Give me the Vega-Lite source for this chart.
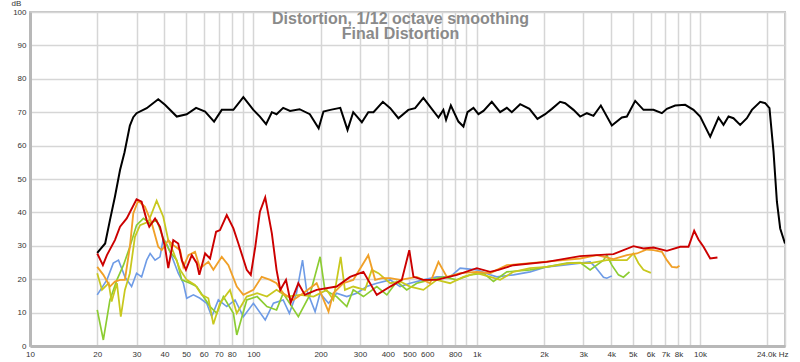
{
  "$schema": "https://vega.github.io/schema/vega-lite/v6.json",
  "width": 755,
  "height": 334,
  "autosize": {"type": "none"},
  "padding": {"left": 30, "top": 12, "right": 15, "bottom": 16},
  "background": "#ffffff",
  "config": {
    "view": {"stroke": "#c4c4c4", "strokeWidth": 2},
    "font": "Liberation Sans"
  },
  "title": {
    "text": ["Distortion, 1/12 octave smoothing", "Final Distortion"],
    "anchor": "middle",
    "frame": "group",
    "orient": "top",
    "offset": -43,
    "dx": -7,
    "lineHeight": 15,
    "font": "Liberation Sans",
    "fontSize": 16,
    "fontWeight": "bold",
    "color": "#8a8a8a"
  },
  "data": {
    "values": [
      {"s":"H1","f":20,"d":27.9},{"s":"H1","f":21.7,"d":30.7},{"s":"H1","f":22.8,"d":37.7},{"s":"H1","f":24,"d":44.7},{"s":"H1","f":25.3,"d":52.7},{"s":"H1","f":26.5,"d":58},{"s":"H1","f":28,"d":66},{"s":"H1","f":29,"d":68.5},{"s":"H1","f":30,"d":69.7},{"s":"H1","f":33.3,"d":71.2},{"s":"H1","f":37.5,"d":73.9},{"s":"H1","f":40.2,"d":72.2},{"s":"H1","f":45.4,"d":68.7},{"s":"H1","f":50.3,"d":69.4},{"s":"H1","f":55.4,"d":71.3},{"s":"H1","f":60.8,"d":70.2},{"s":"H1","f":66.7,"d":67.2},{"s":"H1","f":72.2,"d":70.7},{"s":"H1","f":81.4,"d":70.7},{"s":"H1","f":90.2,"d":74.5},{"s":"H1","f":100,"d":70.7},{"s":"H1","f":107,"d":68.7},{"s":"H1","f":114,"d":66.4},{"s":"H1","f":121,"d":70},{"s":"H1","f":127,"d":69.4},{"s":"H1","f":136,"d":71.3},{"s":"H1","f":146,"d":70.4},{"s":"H1","f":161,"d":70.9},{"s":"H1","f":179,"d":69.4},{"s":"H1","f":196,"d":65.2},{"s":"H1","f":206,"d":70.2},{"s":"H1","f":221,"d":70.7},{"s":"H1","f":245,"d":71.3},{"s":"H1","f":264,"d":64.7},{"s":"H1","f":280,"d":70},{"s":"H1","f":306,"d":67},{"s":"H1","f":327,"d":70},{"s":"H1","f":345,"d":70},{"s":"H1","f":380,"d":73.1},{"s":"H1","f":410,"d":71.2},{"s":"H1","f":446,"d":68.2},{"s":"H1","f":494,"d":70.7},{"s":"H1","f":530,"d":71.2},{"s":"H1","f":577,"d":74.3},{"s":"H1","f":618,"d":71.7},{"s":"H1","f":674,"d":68.4},{"s":"H1","f":709,"d":70.7},{"s":"H1","f":729,"d":67.7},{"s":"H1","f":766,"d":72},{"s":"H1","f":828,"d":67.2},{"s":"H1","f":872,"d":65.7},{"s":"H1","f":909,"d":70},{"s":"H1","f":967,"d":71.3},{"s":"H1","f":1018,"d":69.4},{"s":"H1","f":1072,"d":70.4},{"s":"H1","f":1168,"d":73.1},{"s":"H1","f":1273,"d":70},{"s":"H1","f":1364,"d":71.3},{"s":"H1","f":1436,"d":70},{"s":"H1","f":1565,"d":72.4},{"s":"H1","f":1722,"d":71},{"s":"H1","f":1870,"d":68},{"s":"H1","f":2025,"d":69.4},{"s":"H1","f":2170,"d":71},{"s":"H1","f":2363,"d":73.1},{"s":"H1","f":2489,"d":72.7},{"s":"H1","f":2712,"d":70.7},{"s":"H1","f":2905,"d":68.7},{"s":"H1","f":3113,"d":69.7},{"s":"H1","f":3332,"d":68.9},{"s":"H1","f":3595,"d":72},{"s":"H1","f":4027,"d":66},{"s":"H1","f":4465,"d":68.4},{"s":"H1","f":4702,"d":68.7},{"s":"H1","f":5122,"d":73.4},{"s":"H1","f":5580,"d":70.7},{"s":"H1","f":6185,"d":70.7},{"s":"H1","f":6745,"d":69.7},{"s":"H1","f":7101,"d":71},{"s":"H1","f":7735,"d":72},{"s":"H1","f":8576,"d":72.2},{"s":"H1","f":9344,"d":70.7},{"s":"H1","f":10010,"d":68.7},{"s":"H1","f":11100,"d":62.7},{"s":"H1","f":12090,"d":68.4},{"s":"H1","f":12730,"d":66.2},{"s":"H1","f":13410,"d":68.7},{"s":"H1","f":14110,"d":68.2},{"s":"H1","f":15120,"d":66.2},{"s":"H1","f":16200,"d":68.2},{"s":"H1","f":17060,"d":70.7},{"s":"H1","f":18590,"d":73.1},{"s":"H1","f":19570,"d":72.7},{"s":"H1","f":20450,"d":71.2},{"s":"H1","f":21320,"d":58.2},{"s":"H1","f":22080,"d":43.2},{"s":"H1","f":22840,"d":35.2},{"s":"H1","f":24000,"d":30.7},

      {"s":"H6","f":20,"d":15.3},{"s":"H6","f":22.1,"d":19.8},{"s":"H6","f":23.6,"d":24.8},{"s":"H6","f":24.9,"d":25.7},{"s":"H6","f":26.6,"d":20.7},{"s":"H6","f":28.5,"d":17.8},{"s":"H6","f":30,"d":21.8},{"s":"H6","f":31.6,"d":20.7},{"s":"H6","f":33.3,"d":25.7},{"s":"H6","f":34.5,"d":27.7},{"s":"H6","f":36.3,"d":25.7},{"s":"H6","f":38.2,"d":26.7},{"s":"H6","f":39.5,"d":32.2},{"s":"H6","f":41.2,"d":30.2},{"s":"H6","f":43.8,"d":25.7},{"s":"H6","f":46.1,"d":21.8},{"s":"H6","f":48.6,"d":18.8},{"s":"H6","f":50.3,"d":14.3},{"s":"H6","f":53.9,"d":15.3},{"s":"H6","f":57.7,"d":14.3},{"s":"H6","f":61.8,"d":12.8},{"s":"H6","f":65.1,"d":8.8},{"s":"H6","f":69.7,"d":13.8},{"s":"H6","f":76,"d":11.8},{"s":"H6","f":82.8,"d":13.8},{"s":"H6","f":90.2,"d":8.8},{"s":"H6","f":100,"d":12.8},{"s":"H6","f":113,"d":7.8},{"s":"H6","f":123,"d":12.8},{"s":"H6","f":136,"d":13.8},{"s":"H6","f":145,"d":9.8},{"s":"H6","f":156,"d":15.8},{"s":"H6","f":166,"d":25.7},{"s":"H6","f":173,"d":16.8},{"s":"H6","f":189,"d":10.3},{"s":"H6","f":199,"d":15.8},{"s":"H6","f":217,"d":12.8},{"s":"H6","f":236,"d":15.8},{"s":"H6","f":262,"d":14.8},{"s":"H6","f":290,"d":15.8},{"s":"H6","f":322,"d":17.8},{"s":"H6","f":357,"d":18.8},{"s":"H6","f":410,"d":19.8},{"s":"H6","f":454,"d":17.8},{"s":"H6","f":503,"d":18.8},{"s":"H6","f":577,"d":19.8},{"s":"H6","f":663,"d":20.7},{"s":"H6","f":760,"d":20.7},{"s":"H6","f":843,"d":23.3},{"s":"H6","f":1001,"d":22.8},{"s":"H6","f":1148,"d":21.3},{"s":"H6","f":1230,"d":20.7},{"s":"H6","f":1460,"d":21.3},{"s":"H6","f":1734,"d":22.2},{"s":"H6","f":2060,"d":23.7},{"s":"H6","f":2445,"d":24.2},{"s":"H6","f":2905,"d":24.8},{"s":"H6","f":3219,"d":25.2},{"s":"H6","f":3390,"d":23.7},{"s":"H6","f":3694,"d":20.6},{"s":"H6","f":3824,"d":20.3},{"s":"H6","f":4027,"d":21},

      {"s":"H5","f":20,"d":10.8},{"s":"H5","f":21.3,"d":1.8},{"s":"H5","f":22.8,"d":13.8},{"s":"H5","f":24.5,"d":19.8},{"s":"H5","f":26.2,"d":24.2},{"s":"H5","f":28,"d":29.7},{"s":"H5","f":30,"d":36.2},{"s":"H5","f":32.2,"d":38.2},{"s":"H5","f":34.5,"d":36.7},{"s":"H5","f":36.9,"d":37.7},{"s":"H5","f":39.5,"d":32.2},{"s":"H5","f":42.4,"d":28.2},{"s":"H5","f":45.4,"d":25.7},{"s":"H5","f":47.8,"d":19.8},{"s":"H5","f":52.1,"d":18.8},{"s":"H5","f":55.8,"d":17.8},{"s":"H5","f":59.7,"d":14.8},{"s":"H5","f":64,"d":11.8},{"s":"H5","f":68.6,"d":9.8},{"s":"H5","f":73.4,"d":14.8},{"s":"H5","f":81.4,"d":9.8},{"s":"H5","f":84.3,"d":3.3},{"s":"H5","f":93.4,"d":13.8},{"s":"H5","f":104,"d":14.8},{"s":"H5","f":115,"d":11.8},{"s":"H5","f":127,"d":10.8},{"s":"H5","f":136,"d":15.8},{"s":"H5","f":159,"d":8.8},{"s":"H5","f":179,"d":15.3},{"s":"H5","f":199,"d":26.7},{"s":"H5","f":209,"d":16.8},{"s":"H5","f":236,"d":14.8},{"s":"H5","f":262,"d":11.8},{"s":"H5","f":280,"d":16.8},{"s":"H5","f":311,"d":14.8},{"s":"H5","f":357,"d":17.8},{"s":"H5","f":396,"d":15.3},{"s":"H5","f":439,"d":19.3},{"s":"H5","f":486,"d":16.8},{"s":"H5","f":539,"d":18.8},{"s":"H5","f":618,"d":19.8},{"s":"H5","f":709,"d":20.7},{"s":"H5","f":815,"d":19.8},{"s":"H5","f":934,"d":21.3},{"s":"H5","f":1072,"d":21.8},{"s":"H5","f":1188,"d":19.3},{"s":"H5","f":1364,"d":22.2},{"s":"H5","f":1734,"d":22.8},{"s":"H5","f":2060,"d":23.7},{"s":"H5","f":2532,"d":24.8},{"s":"H5","f":2905,"d":25},{"s":"H5","f":3219,"d":22.8},{"s":"H5","f":3694,"d":25.7},{"s":"H5","f":3824,"d":27.2},{"s":"H5","f":4027,"d":24.2},{"s":"H5","f":4311,"d":21.3},{"s":"H5","f":4539,"d":20.6},{"s":"H5","f":4830,"d":22.2},

      {"s":"H4","f":20,"d":21.8},{"s":"H4","f":21,"d":16.8},{"s":"H4","f":22.5,"d":18.8},{"s":"H4","f":23.2,"d":13.3},{"s":"H4","f":24.5,"d":18.8},{"s":"H4","f":25.5,"d":8.8},{"s":"H4","f":26.6,"d":16.8},{"s":"H4","f":28,"d":21.8},{"s":"H4","f":29.5,"d":32.7},{"s":"H4","f":31.1,"d":36.2},{"s":"H4","f":33.9,"d":37.2},{"s":"H4","f":36.9,"d":43.5},{"s":"H4","f":39.5,"d":38.7},{"s":"H4","f":41.6,"d":31.7},{"s":"H4","f":43.8,"d":28.2},{"s":"H4","f":47,"d":22.8},{"s":"H4","f":50.3,"d":19.8},{"s":"H4","f":54.8,"d":18.3},{"s":"H4","f":58.7,"d":15.3},{"s":"H4","f":62.9,"d":14.3},{"s":"H4","f":66.2,"d":6.5},{"s":"H4","f":70.9,"d":12.8},{"s":"H4","f":78.6,"d":16.8},{"s":"H4","f":84.3,"d":9.8},{"s":"H4","f":93.4,"d":14.8},{"s":"H4","f":104,"d":15.8},{"s":"H4","f":115,"d":14.8},{"s":"H4","f":127,"d":16.8},{"s":"H4","f":141,"d":14.8},{"s":"H4","f":162,"d":15.3},{"s":"H4","f":186,"d":14.8},{"s":"H4","f":213,"d":16.8},{"s":"H4","f":228,"d":13.8},{"s":"H4","f":246,"d":26.7},{"s":"H4","f":257,"d":16.8},{"s":"H4","f":280,"d":17.8},{"s":"H4","f":316,"d":16.8},{"s":"H4","f":339,"d":22.8},{"s":"H4","f":363,"d":21.8},{"s":"H4","f":410,"d":18.8},{"s":"H4","f":454,"d":19.3},{"s":"H4","f":503,"d":17.8},{"s":"H4","f":577,"d":16.8},{"s":"H4","f":663,"d":19.8},{"s":"H4","f":760,"d":18.8},{"s":"H4","f":872,"d":20.7},{"s":"H4","f":1001,"d":21.8},{"s":"H4","f":1148,"d":20.7},{"s":"H4","f":1273,"d":19.8},{"s":"H4","f":1460,"d":22.2},{"s":"H4","f":1734,"d":23.3},{"s":"H4","f":2060,"d":23.7},{"s":"H4","f":2620,"d":24.8},{"s":"H4","f":3219,"d":24.8},{"s":"H4","f":3824,"d":25.7},{"s":"H4","f":4702,"d":25.7},{"s":"H4","f":5032,"d":27.7},{"s":"H4","f":5300,"d":24.8},{"s":"H4","f":5579,"d":22.8},{"s":"H4","f":6021,"d":21.9},

      {"s":"H3","f":20,"d":23.7},{"s":"H3","f":21.3,"d":21.3},{"s":"H3","f":22.8,"d":17.8},{"s":"H3","f":24,"d":19.3},{"s":"H3","f":25.3,"d":19.8},{"s":"H3","f":26.6,"d":19.8},{"s":"H3","f":28,"d":29.7},{"s":"H3","f":29,"d":39.7},{"s":"H3","f":30.5,"d":43.5},{"s":"H3","f":32.7,"d":41.7},{"s":"H3","f":35.1,"d":36.7},{"s":"H3","f":37.5,"d":29.7},{"s":"H3","f":38.9,"d":28.7},{"s":"H3","f":41.6,"d":31.7},{"s":"H3","f":43.8,"d":30.2},{"s":"H3","f":47,"d":28.7},{"s":"H3","f":48.6,"d":23.7},{"s":"H3","f":51.2,"d":27.2},{"s":"H3","f":54.8,"d":28.2},{"s":"H3","f":57.7,"d":23.3},{"s":"H3","f":62.9,"d":25.2},{"s":"H3","f":66.2,"d":22.8},{"s":"H3","f":72.2,"d":26.7},{"s":"H3","f":77.3,"d":24.2},{"s":"H3","f":84.3,"d":17.8},{"s":"H3","f":90.2,"d":15.3},{"s":"H3","f":100,"d":16.8},{"s":"H3","f":109,"d":20.7},{"s":"H3","f":119,"d":19.8},{"s":"H3","f":127,"d":18.8},{"s":"H3","f":136,"d":15.8},{"s":"H3","f":151,"d":13.8},{"s":"H3","f":167,"d":15.8},{"s":"H3","f":192,"d":18.8},{"s":"H3","f":217,"d":10.3},{"s":"H3","f":228,"d":15.8},{"s":"H3","f":253,"d":18.8},{"s":"H3","f":280,"d":19.8},{"s":"H3","f":327,"d":27.2},{"s":"H3","f":351,"d":19.8},{"s":"H3","f":376,"d":20.3},{"s":"H3","f":410,"d":20.3},{"s":"H3","f":454,"d":19.8},{"s":"H3","f":539,"d":20.7},{"s":"H3","f":618,"d":18.8},{"s":"H3","f":674,"d":25.2},{"s":"H3","f":735,"d":20.7},{"s":"H3","f":843,"d":21.8},{"s":"H3","f":1001,"d":22.2},{"s":"H3","f":1148,"d":21.8},{"s":"H3","f":1364,"d":24.2},{"s":"H3","f":1734,"d":24.8},{"s":"H3","f":2445,"d":25.7},{"s":"H3","f":2905,"d":26.2},{"s":"H3","f":3450,"d":27.2},{"s":"H3","f":4094,"d":26},{"s":"H3","f":4702,"d":27.2},{"s":"H3","f":5212,"d":27.7},{"s":"H3","f":5778,"d":28.9},{"s":"H3","f":6185,"d":28.7},{"s":"H3","f":6745,"d":28.2},{"s":"H3","f":7101,"d":25.7},{"s":"H3","f":7475,"d":23.7},{"s":"H3","f":7873,"d":23.5},{"s":"H3","f":8088,"d":24},

      {"s":"H2","f":20,"d":27.7},{"s":"H2","f":21.2,"d":24.2},{"s":"H2","f":22.1,"d":27.2},{"s":"H2","f":24,"d":31.7},{"s":"H2","f":25.3,"d":35.7},{"s":"H2","f":27.1,"d":38.2},{"s":"H2","f":30,"d":43.9},{"s":"H2","f":31.6,"d":43.2},{"s":"H2","f":33.3,"d":37.7},{"s":"H2","f":34.2,"d":35.7},{"s":"H2","f":36.3,"d":38.2},{"s":"H2","f":38.2,"d":35.7},{"s":"H2","f":40.2,"d":29.7},{"s":"H2","f":41.6,"d":23.3},{"s":"H2","f":43.8,"d":31.7},{"s":"H2","f":46.1,"d":30.7},{"s":"H2","f":47.8,"d":25.7},{"s":"H2","f":49.9,"d":22.8},{"s":"H2","f":53,"d":27.2},{"s":"H2","f":55.8,"d":24.8},{"s":"H2","f":57.3,"d":21.3},{"s":"H2","f":60.8,"d":27.7},{"s":"H2","f":64,"d":26.2},{"s":"H2","f":68.1,"d":34.2},{"s":"H2","f":70.9,"d":34.7},{"s":"H2","f":76,"d":39.2},{"s":"H2","f":81.4,"d":35.2},{"s":"H2","f":85.7,"d":30.7},{"s":"H2","f":93.4,"d":22.8},{"s":"H2","f":97.4,"d":21.3},{"s":"H2","f":102,"d":29.7},{"s":"H2","f":107,"d":40.2},{"s":"H2","f":113,"d":44.5},{"s":"H2","f":121,"d":33.7},{"s":"H2","f":127,"d":22.8},{"s":"H2","f":132,"d":16.8},{"s":"H2","f":140,"d":19.8},{"s":"H2","f":147,"d":13},{"s":"H2","f":159,"d":18.8},{"s":"H2","f":170,"d":15.3},{"s":"H2","f":192,"d":16.8},{"s":"H2","f":236,"d":17.8},{"s":"H2","f":271,"d":20.7},{"s":"H2","f":311,"d":22.2},{"s":"H2","f":357,"d":15.3},{"s":"H2","f":410,"d":17.8},{"s":"H2","f":462,"d":19.8},{"s":"H2","f":499,"d":28.7},{"s":"H2","f":521,"d":20.7},{"s":"H2","f":577,"d":19.8},{"s":"H2","f":663,"d":19.8},{"s":"H2","f":815,"d":21.3},{"s":"H2","f":1001,"d":23.3},{"s":"H2","f":1148,"d":22.2},{"s":"H2","f":1251,"d":22.8},{"s":"H2","f":1460,"d":24.2},{"s":"H2","f":2060,"d":25.2},{"s":"H2","f":2905,"d":26.9},{"s":"H2","f":4094,"d":27.5},{"s":"H2","f":5032,"d":29.9},{"s":"H2","f":5579,"d":29.2},{"s":"H2","f":6185,"d":29.5},{"s":"H2","f":7101,"d":28.5},{"s":"H2","f":8147,"d":29.7},{"s":"H2","f":8874,"d":29.7},{"s":"H2","f":9410,"d":34.5},{"s":"H2","f":9835,"d":31.9},{"s":"H2","f":10360,"d":29.7},{"s":"H2","f":11100,"d":26.2},{"s":"H2","f":11960,"d":26.5}
    ]
  },
  "mark": {"type": "line", "clip": true},
  "encoding": {
    "x": {
      "field": "f",
      "type": "quantitative",
      "scale": {"type": "log", "domain": [10, 24000], "nice": false},
      "axis": {
        "title": null,
        "values": [10,20,30,40,50,60,70,80,90,100,200,300,400,500,600,700,800,900,1000,2000,3000,4000,5000,6000,7000,8000,9000,10000,20000,24000],
        "labelExpr": "(datum.value==90||datum.value==700||datum.value==900||datum.value==9000||datum.value==20000) ? '' : (datum.value==24000 ? '24.0k Hz' : (datum.value>=1000 ? (datum.value/1000)+'k' : datum.value+''))",
        "labelOverlap": false,
        "labelFlush": false,
        "labelAlign": {"condition": {"test": "datum.value == 24000", "value": "right"}, "value": "center"},
        "labelOffset": {"condition": {"test": "datum.value == 24000", "value": 3}, "value": 0},
        "labelFontSize": 8,
        "labelColor": "#333333",
        "labelPadding": 4,
        "ticks": false,
        "domainColor": "#b8b8b8",
        "domainWidth": 3,
        "gridColor": "#d6d6d6",
        "gridWidth": 1.5
      }
    },
    "y": {
      "field": "d",
      "type": "quantitative",
      "scale": {"domain": [0, 100], "nice": false},
      "axis": {
        "title": "dB",
        "titleAngle": 0,
        "titleX": -14,
        "titleY": -9,
        "titleAlign": "center",
        "titleBaseline": "middle",
        "titleFontSize": 8,
        "titleFontWeight": "normal",
        "titleColor": "#333333",
        "values": [0,10,20,30,40,50,60,70,80,90,100],
        "labelFontSize": 8,
        "labelColor": "#333333",
        "labelPadding": 4,
        "ticks": false,
        "domainColor": "#b8b8b8",
        "domainWidth": 3,
        "gridColor": "#d6d6d6",
        "gridWidth": 1.5
      }
    },
    "color": {
      "field": "s",
      "type": "nominal",
      "scale": {"domain": ["H1","H2","H3","H4","H5","H6"], "range": ["#000000","#cc0000","#f0a028","#c8c81e","#8ccc32","#6e9be6"]},
      "legend": null
    },
    "strokeWidth": {
      "field": "s",
      "type": "nominal",
      "scale": {"domain": ["H1","H2","H3","H4","H5","H6"], "range": [2,1.6,1.6,1.6,1.6,1.6]},
      "legend": null
    }
  }
}
